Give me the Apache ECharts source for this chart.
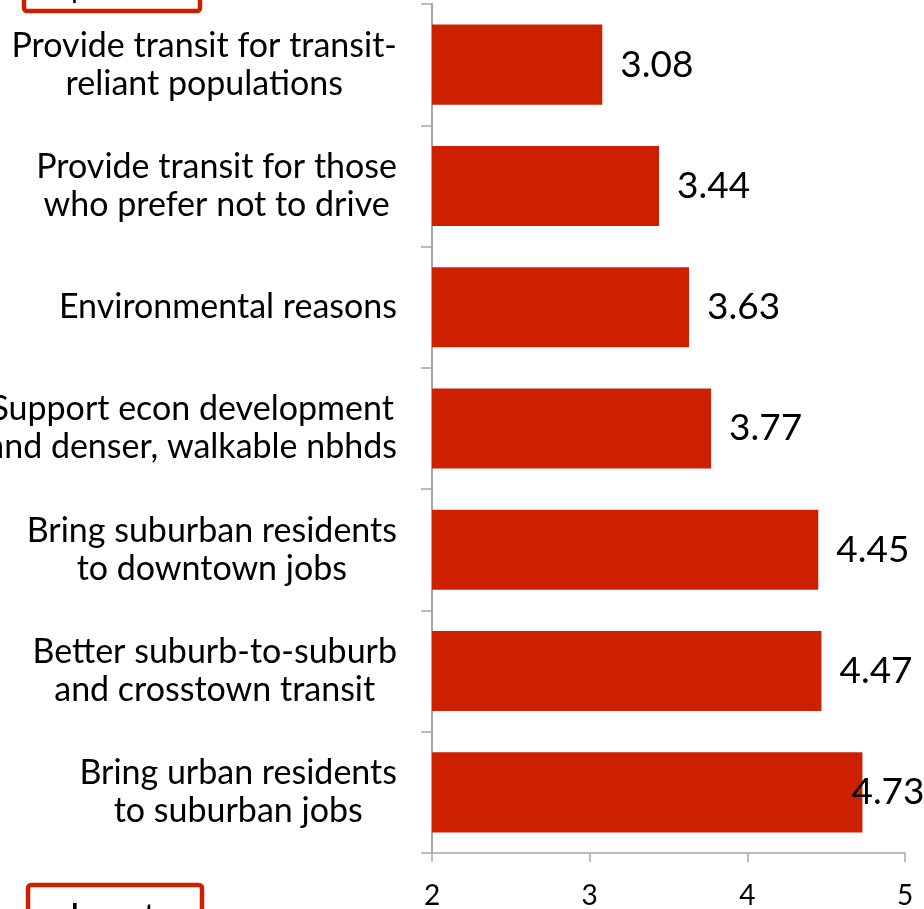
<!DOCTYPE html>
<html>
<head>
<meta charset="utf-8">
<script src="https://cdn.jsdelivr.net/npm/echarts@6/dist/echarts.min.js"></script>
<style>
html,body{margin:0;padding:0;background:#fff;}
#chart{width:924px;height:909px;}
</style>
</head>
<body>
<div id="chart"></div>
<script>
const categories = [
  "Provide transit for transit-\nreliant populations",
  "Provide transit for those\nwho prefer not to drive",
  "Environmental reasons",
  "Support econ development\nand denser, walkable nbhds",
  "Bring suburban residents\nto downtown jobs",
  "Better suburb-to-suburb\nand crosstown transit",
  "Bring urban residents\nto suburban jobs"
];
const values = [3.08, 3.44, 3.63, 3.77, 4.45, 4.47, 4.73];
const xTicks = [2, 3, 4, 5];
const topBoxText = "important";
const bottomBoxText = "Least";

const FONT = "Lato";
const chart = echarts.init(document.getElementById('chart'), null, {renderer: 'canvas'});

const seriesData = values.map((v, i) => {
  if (i === values.length - 1) {
    return {value: v, label: {offset: [-29, 0]}};
  }
  return v;
});

chart.setOption({
  animation: false,
  backgroundColor: '#ffffff',
  grid: {left: 432, right: 19, top: 4, bottom: 56, containLabel: false, outerBoundsMode: 'none'},
  xAxis: {
    type: 'value',
    min: xTicks[0],
    max: xTicks[xTicks.length - 1],
    interval: 1,
    axisLine: {show: true, lineStyle: {color: '#a6a6a6', width: 1.5}},
    axisTick: {show: true, length: 9, lineStyle: {color: '#a6a6a6', width: 1.5}},
    splitLine: {show: false},
    axisLabel: {
      margin: 29,
      fontFamily: FONT,
      fontSize: 28,
      color: '#000',
      formatter: v => String(v)
    }
  },
  yAxis: {
    type: 'category',
    inverse: true,
    data: categories,
    axisLine: {show: true, lineStyle: {color: '#a6a6a6', width: 2}},
    axisTick: {show: true, length: 11, lineStyle: {color: '#a6a6a6', width: 1.5}},
    axisLabel: {
      margin: 35,
      align: 'right',
      color: '#000',
      fontFamily: FONT,
      fontSize: 34,
      lineHeight: 38,
      formatter: function (val) {
        return val.split('\n').map(s => '{c|' + s + '}').join('\n');
      },
      rich: {
        c: {align: 'center', fontFamily: FONT, fontSize: 34, lineHeight: 38, color: '#000'}
      }
    }
  },
  series: [{
    type: 'bar',
    data: seriesData,
    barCategoryGap: '34%',
    itemStyle: {color: '#cd2000'},
    label: {
      show: true,
      position: 'right',
      distance: 18,
      fontFamily: FONT,
      fontSize: 37,
      color: '#000',
      formatter: p => p.value.toFixed(2)
    }
  }],
  graphic: [
    {
      type: 'rect',
      shape: {x: 24, y: -40, width: 176, height: 51, r: 3},
      style: {fill: '#fff', stroke: '#cd2000', lineWidth: 4.5}
    },
    {
      type: 'text',
      x: 39,
      y: -27,
      style: {text: topBoxText, fontFamily: FONT, fontSize: 30, fill: '#000', align: 'left', verticalAlign: 'top'}
    },
    {
      type: 'rect',
      shape: {x: 28, y: 885, width: 174, height: 60, r: 3},
      style: {fill: '#fff', stroke: '#cd2000', lineWidth: 4.5}
    },
    {
      type: 'text',
      x: 113,
      y: 900,
      style: {text: bottomBoxText, fontFamily: FONT, fontSize: 38, fill: '#000', align: 'center', verticalAlign: 'top'}
    }
  ]
});
</script>
</body>
</html>
